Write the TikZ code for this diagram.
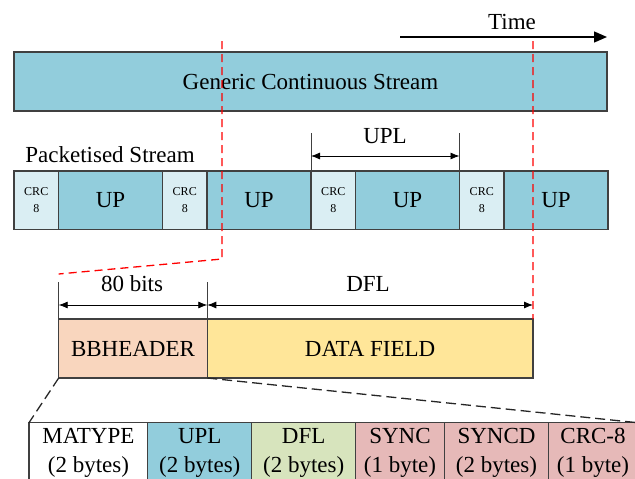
\documentclass[tikz,border=0pt]{standalone}
\usepackage{fontspec}
\setmainfont{Liberation Serif}
\usetikzlibrary{arrows.meta}
\definecolor{streamblue}{HTML}{92CDDC}
\definecolor{crcblue}{HTML}{DAEEF3}
\definecolor{peach}{HTML}{F9D6BE}
\definecolor{paleyellow}{HTML}{FFE699}
\definecolor{palegreen}{HTML}{D7E4BD}
\definecolor{rosepink}{HTML}{E6B9B8}
\definecolor{edge}{HTML}{404040}
\tikzset{
  cell/.style={draw=edge, line width=1.3pt, inner sep=0pt, outer sep=0pt, anchor=north west, align=center, font=\fontsize{23}{29}\selectfont},
  crccell/.style={cell, fill=crcblue, minimum width=44.5, minimum height=58.3, font=\fontsize{12}{17}\selectfont},
  upcell/.style={cell, fill=streamblue, minimum width=104, minimum height=58.3},
  tabcell/.style={cell, minimum height=60},
  lbl/.style={inner sep=0pt, font=\fontsize{23}{29}\selectfont},
  reddash/.style={draw=red, line width=1.3pt, dash pattern=on 8pt off 5pt},
  blackdash/.style={draw=black!85, line width=1.3pt, dash pattern=on 10pt off 5pt},
  dimline/.style={line width=0.8pt, {Latex[length=9pt,width=7pt]}-{Latex[length=9pt,width=7pt]}},
  tickline/.style={line width=0.8pt, draw=edge}
}
\begin{document}
\begin{tikzpicture}[x=1pt,y=-1pt]
\useasboundingbox (0,0) rectangle (635,479);
\clip (0,0) rectangle (635,479);
% Time arrow
\node[lbl] (time) at (512,22) {Time};
\coordinate (t0) at (400,37);
\coordinate (t1) at (607,37);
\draw[line width=1.3pt, -{Triangle[length=13pt,width=11pt]}] (t0) -- (t1);
% generic stream
\node[cell, fill=streamblue, minimum width=593, minimum height=59] (gen) at (14,52) {Generic Continuous Stream};
% packetised stream
\node[lbl] (ps) at (110,155) {Packetised Stream};
\node[crccell] (c1) at (14,171) {CRC\\8};
\node[upcell] (u1) at (c1.north east) {UP};
\node[crccell] (c2) at (u1.north east) {CRC\\8};
\node[upcell] (u2) at (c2.north east) {UP};
\node[crccell] (c3) at (u2.north east) {CRC\\8};
\node[upcell] (u3) at (c3.north east) {UP};
\node[crccell] (c4) at (u3.north east) {CRC\\8};
\node[upcell] (u4) at (c4.north east) {UP};
% UPL dimension
\coordinate (upla) at (311,133);
\coordinate (uplb) at (459.5,133);
\coordinate (uplal) at (311,156);
\coordinate (uplbl) at (459.5,156);
\draw[tickline] (upla) -- (c3.north west);
\draw[tickline] (uplb) -- (c4.north west);
\draw[dimline] (uplal) -- (uplbl);
\node[lbl] (upltxt) at (385,136) {UPL};
% BB frame
\node[cell, fill=peach, minimum width=148.6, minimum height=59] (bbh) at (58.7,319) {BBHEADER};
\node[cell, fill=paleyellow, minimum width=325.7, minimum height=59] (df) at (bbh.north east) {DATA FIELD};
\coordinate (b0) at (58.7,282);
\coordinate (b1) at (207.3,282);
\coordinate (b0l) at (58.7,305);
\coordinate (b1l) at (207.3,305);
\coordinate (b2l) at (533,305);
\draw[tickline] (b0) -- (bbh.north west);
\draw[tickline] (b1) -- (bbh.north east);
\draw[dimline] (b0l) -- (b1l);
\draw[dimline] (b1l) -- (b2l);
\node[lbl] (bitstxt) at (132,284) {80 bits};
\node[lbl] (dfltxt) at (368,284) {DFL};
% header fields table
\node[tabcell, fill=white, minimum width=118.8] (f1) at (29,422.7) {MATYPE\\(2 bytes)};
\node[tabcell, fill=streamblue, minimum width=104] (f2) at (f1.north east) {UPL\\(2 bytes)};
\node[tabcell, fill=palegreen, minimum width=103.7] (f3) at (f2.north east) {DFL\\(2 bytes)};
\node[tabcell, fill=rosepink, minimum width=89] (f4) at (f3.north east) {SYNC\\(1 byte)};
\node[tabcell, fill=rosepink, minimum width=104] (f5) at (f4.north east) {SYNCD\\(2 bytes)};
\node[tabcell, fill=rosepink, minimum width=89] (f6) at (f5.north east) {CRC-8\\(1 byte)};
% zoom lines
\draw[blackdash] (bbh.south west) -- (f1.north west);
\draw[blackdash] (df.south west) -- (f6.north east);
% red cut lines
\coordinate (r1top) at (222,41);
\coordinate (r1knee) at (222,259);
\coordinate (r1end) at (58.7,274);
\coordinate (r2top) at (533,41);
\draw[reddash] (r1top) -- (r1knee) -- (r1end);
\draw[reddash] (r2top) -- (df.north east);
\end{tikzpicture}
\end{document}
